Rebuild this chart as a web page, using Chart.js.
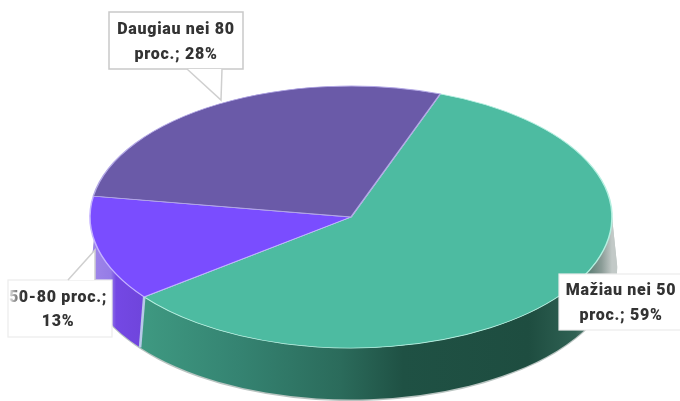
<!DOCTYPE html>
<html>
<head>
<meta charset="utf-8">
<script src="https://cdn.jsdelivr.net/npm/chart.js@4"></script>
<style>
  html, body { margin: 0; padding: 0; background: #fff; }
  #wrap { width: 680px; height: 401px; }
  canvas { filter: blur(0.6px); }
</style>
</head>
<body>
<div id="wrap"><canvas id="pie" width="680" height="401"></canvas></div>
<script>
const categories = ['Mažiau nei 50 proc.', '50-80 proc.', 'Daugiau nei 80 proc.'];
const shares = [59, 13, 28];
const sliceColors = ['#4dbba1', '#7a4dff', '#6a5aa8'];
const edgeColors = ['#b4efe0', '#c4b2ff', '#b3a8e6'];

// where the flat chart is squashed to, in page pixels
const top3d = { x: 351, y: 217, rx: 261, ry: 131, depth: 49, baseGrow: 1.02 };
const leftWallEnd = 170 * Math.PI / 180;

const wallStops = [
  [[0, '#9f86ea'], [0.04, '#957ce6'], [0.05, '#7448e4'], [0.1, '#6f45dc'], [1, '#6f45dc']],
  [[0, '#7f7f7f'], [0.09, '#3f9a82'], [0.28, '#358472'], [0.48, '#2b6b5b'], [0.6, '#1f5144'],
   [0.84, '#1e4d40'], [0.93, '#2f6153'], [0.98, '#8b9c97'], [1, '#c2c9c7']]
];

const callouts = [
  { index: 0, lines: ['Mažiau nei 50', 'proc.; 59%'], box: [559, 274, 123, 56], text: [621, 291, 316] },
  { index: 1, lines: ['50-80 proc.;', '13%'], box: [8, 280, 104, 57], text: [58, 298, 322],
    wedge: [[68, 280], [95, 250], [95, 280]] },
  { index: 2, lines: ['Daugiau nei 80', 'proc.; 28%'], box: [109, 12, 134, 57], text: [176, 30, 55],
    wedge: [[187, 69], [221, 100], [222, 69]] }
];

function wallGradient(ctx, arc, stops) {
  const g = ctx.createLinearGradient(arc.x - arc.outerRadius, 0, arc.x + arc.outerRadius, 0);
  stops.forEach(s => g.addColorStop(s[0], s[1]));
  return g;
}

function wallPath(ctx, arc, from, to, drop, grow) {
  const r = arc.outerRadius;
  ctx.beginPath();
  ctx.arc(arc.x, arc.y, r, from, to);
  ctx.ellipse(arc.x, arc.y + drop, r * grow, r * grow, 0, to, from, true);
  ctx.closePath();
}

const pie3d = {
  id: 'pie3d',
  beforeDatasetsDraw(chart) {
    const ctx = chart.ctx;
    const arcs = chart.getDatasetMeta(0).data;
    const r = arcs[0].outerRadius;
    const sy = top3d.ry / r;
    ctx.save();
    ctx.translate(top3d.x, top3d.y);
    ctx.scale(top3d.rx / r, sy);
    ctx.translate(-arcs[0].x, -arcs[0].y);
    const drop = top3d.depth / sy;

    // soft rim under the wall
    ctx.fillStyle = '#b9c4c1';
    wallPath(ctx, arcs[0], 0, leftWallEnd, drop + 1.5 / sy, top3d.baseGrow);
    ctx.fill();

    // green wall runs from the right edge, purple one stops behind the callout
    const greenEnd = arcs[0].endAngle;
    ctx.fillStyle = wallGradient(ctx, arcs[0], wallStops[1]);
    wallPath(ctx, arcs[0], 0, greenEnd, drop, top3d.baseGrow);
    ctx.fill();
    ctx.fillStyle = wallGradient(ctx, arcs[0], wallStops[0]);
    wallPath(ctx, arcs[0], greenEnd, leftWallEnd, drop, top3d.baseGrow);
    ctx.fill();
    ctx.strokeStyle = '#b7c9e8';
    ctx.lineWidth = 2;
    ctx.beginPath();
    ctx.moveTo(arcs[0].x + r * Math.cos(greenEnd), arcs[0].y + r * Math.sin(greenEnd));
    ctx.lineTo(arcs[0].x + r * top3d.baseGrow * Math.cos(greenEnd), arcs[0].y + drop + r * top3d.baseGrow * Math.sin(greenEnd));
    ctx.stroke();
  },
  afterDatasetsDraw(chart) {
    chart.ctx.restore();
  },
  afterDraw(chart) {
    const ctx = chart.ctx;
    callouts.forEach(c => {
      const b = c.box;
      ctx.save();
      ctx.fillStyle = '#fff';
      ctx.strokeStyle = c.index === 2 ? '#c9c9c9' : '#ececec';
      ctx.lineWidth = c.index === 2 ? 1.5 : 1.2;
      ctx.fillRect(b[0], b[1], b[2], b[3]);
      ctx.strokeRect(b[0], b[1], b[2], b[3]);
      if (c.wedge) {
        ctx.beginPath();
        ctx.moveTo(c.wedge[0][0], c.wedge[0][1]);
        ctx.lineTo(c.wedge[1][0], c.wedge[1][1]);
        ctx.lineTo(c.wedge[2][0], c.wedge[2][1]);
        ctx.closePath();
        ctx.fill();
        ctx.beginPath();
        ctx.moveTo(c.wedge[0][0], c.wedge[0][1]);
        ctx.lineTo(c.wedge[1][0], c.wedge[1][1]);
        ctx.lineTo(c.wedge[2][0], c.wedge[2][1]);
        ctx.strokeStyle = '#cfcfcf';
        ctx.lineWidth = 1.5;
        ctx.stroke();
      }
      ctx.fillStyle = '#333';
      ctx.font = '900 16px Roboto, sans-serif';
      ctx.letterSpacing = '0.7px';
      ctx.textAlign = 'center';
      ctx.textBaseline = 'middle';
      ctx.fillText(c.lines[0], c.text[0], c.text[1]);
      ctx.fillText(c.lines[1], c.text[0], c.text[2]);
      ctx.restore();
    });
    // the first digit of the small label fades out in the source
    const fade = ctx.createLinearGradient(9, 0, 22, 0);
    fade.addColorStop(0, 'rgba(255,255,255,0.9)');
    fade.addColorStop(1, 'rgba(255,255,255,0)');
    ctx.fillStyle = fade;
    ctx.fillRect(9, 288, 13, 20);
  }
};

new Chart(document.getElementById('pie').getContext('2d'), {
  type: 'pie',
  data: {
    labels: categories,
    datasets: [{
      data: shares,
      backgroundColor: sliceColors,
      borderColor: edgeColors,
      borderWidth: 1.2,
      borderAlign: 'center'
    }]
  },
  options: {
    responsive: false,
    animation: false,
    rotation: 20,
    layout: { padding: 0 },
    plugins: { legend: { display: false }, tooltip: { enabled: false } }
  },
  plugins: [pie3d]
});
</script>
</body>
</html>
